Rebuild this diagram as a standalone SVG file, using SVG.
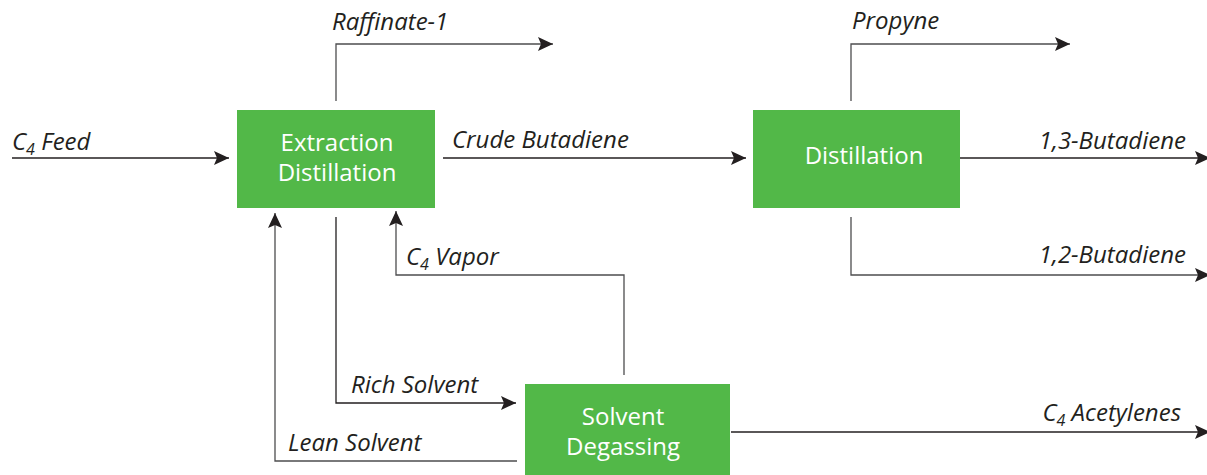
<svg xmlns="http://www.w3.org/2000/svg" width="1207" height="475" viewBox="0 0 1207 475">
<style>
.box{fill:#52b848}
.bt{font-family:"Open Sans","Noto Sans",sans-serif;font-size:24px;fill:#ffffff;text-anchor:middle}
.lb{font-family:"Open Sans","Noto Sans",sans-serif;font-size:24px;font-style:italic;fill:#231f20}
.sub{font-size:16px}
.ln{fill:none;stroke:#231f20;stroke-width:1.3}
.lg{fill:none;stroke:#4d4d4f;stroke-width:1.3}
</style>
<defs>
<marker id="ah" markerWidth="15" markerHeight="14" refX="15" refY="7" orient="auto" markerUnits="userSpaceOnUse">
<path d="M0,0 L15,7 L0,14 L3,7 Z" fill="#231f20"/>
</marker>
</defs>
<rect width="1207" height="475" fill="#ffffff"/>
<g id="extraction">
<rect class="box" x="237" y="110" width="198" height="98"/>
<text class="bt" x="337" y="151">Extraction</text>
<text class="bt" x="337" y="181">Distillation</text>
</g>
<g id="distillation">
<rect class="box" x="753" y="110" width="207" height="98"/>
<text class="bt" x="864" y="164">Distillation</text>
</g>
<g id="degassing">
<rect class="box" x="525" y="384" width="205" height="91"/>
<text class="bt" x="623" y="425">Solvent</text>
<text class="bt" x="623" y="455">Degassing</text>
</g>
<g id="connectors">
<path class="ln" d="M12,158 H229" marker-end="url(#ah)"/>
<path class="lg" d="M336,101 V44 H553" marker-end="url(#ah)"/>
<path class="ln" d="M443,158 H746" marker-end="url(#ah)"/>
<path class="lg" d="M851,101 V44 H1070" marker-end="url(#ah)"/>
<path class="ln" d="M960,158 H1210" marker-end="url(#ah)"/>
<path class="lg" d="M851,217 V275 H1210" marker-end="url(#ah)"/>
<path class="ln" d="M336,217 V403 H516" marker-end="url(#ah)"/>
<path class="lg" d="M624,375 V275 H396 V211" marker-end="url(#ah)"/>
<path class="lg" d="M517,461 H275 V213" marker-end="url(#ah)"/>
<path class="ln" d="M731,432 H1210" marker-end="url(#ah)"/>
</g>
<g id="labels">
<text class="lb" x="12" y="150">C<tspan class="sub" dy="5">4</tspan><tspan dy="-5"> Feed</tspan></text>
<text class="lb" x="332" y="30">Raffinate-1</text>
<text class="lb" x="452" y="148">Crude Butadiene</text>
<text class="lb" x="852" y="29">Propyne</text>
<text class="lb" x="1186" y="149" text-anchor="end">1,3-Butadiene</text>
<text class="lb" x="1186" y="263" text-anchor="end">1,2-Butadiene</text>
<text class="lb" x="406" y="265">C<tspan class="sub" dy="5">4</tspan><tspan dy="-5"> Vapor</tspan></text>
<text class="lb" x="351" y="393">Rich Solvent</text>
<text class="lb" x="288" y="451">Lean Solvent</text>
<text class="lb" x="1181" y="421" text-anchor="end">C<tspan class="sub" dy="5">4</tspan><tspan dy="-5"> Acetylenes</tspan></text>
</g>
</svg>
